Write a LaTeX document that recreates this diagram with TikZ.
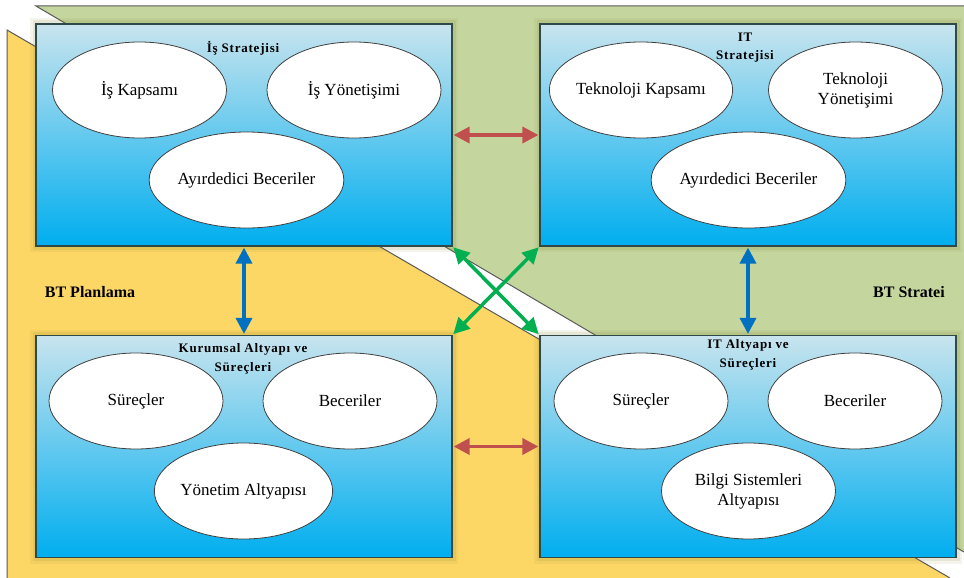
\documentclass[tikz,border=0pt]{standalone}
\usepackage{fontspec}
\setmainfont{Liberation Serif}
\newfontfamily\spacedserif[LetterSpace=6]{Liberation Serif}
\usetikzlibrary{shapes.geometric,arrows.meta,calc}
\definecolor{planeyellow}{HTML}{FDD766}
\definecolor{planegreen}{HTML}{C4D69E}
\definecolor{edgegrey}{HTML}{5A5A5A}
\definecolor{boxtop}{HTML}{C8E4EE}
\definecolor{boxbottom}{HTML}{00AEEF}
\definecolor{boxedge}{HTML}{2F4848}
\definecolor{glowcol}{HTML}{7A7A20}
\definecolor{linkred}{HTML}{C0504D}
\definecolor{linkblue}{HTML}{0070C0}
\definecolor{linkgreen}{HTML}{00B050}

\begin{document}
\begin{tikzpicture}[x=1pt,y=-1pt,
  panel/.style={rectangle, minimum width=416pt, minimum height=222pt, inner sep=0pt,
    top color=boxtop, bottom color=boxbottom, draw=boxedge, line width=1.2pt,
    preaction={draw=glowcol, line width=12pt, draw opacity=0.08},
    preaction={draw=glowcol, line width=7pt, draw opacity=0.11}},
  blob/.style={ellipse, draw=black!75, fill=white, line width=0.8pt,
    minimum width=174pt, minimum height=96pt, inner sep=0pt, align=center,
    font=\fontsize{17}{20}\selectfont},
  paneltitle/.style={align=center, inner sep=0pt, font=\spacedserif\bfseries\fontsize{13}{18.5}\selectfont},
  planelabel/.style={inner sep=0pt, font=\bfseries\fontsize{16}{19}\selectfont},
  link/.style={{Triangle[length=16pt,width=16pt]}-{Triangle[length=16pt,width=16pt]},
    line width=3.5pt, shorten >=1pt, shorten <=1pt},
  planeedge/.style={draw=edgegrey, line width=1pt}
]
% page
\fill[white] (0,0) rectangle (964,578);
\useasboundingbox (0,0) rectangle (964,578);

% strategy plane (green) and planning plane (yellow)
\fill[planegreen] (36,6) -- (964,6) -- (964,552) -- cycle;
\draw[planeedge] (964,6) -- (36,6) -- (964,552);
\fill[planeyellow] (7,30) -- (950,578) -- (7,578) -- cycle;
\draw[planeedge] (7,578) -- (7,30) -- (950,578);

% plane captions
\node[planelabel] (plan) at (90,292) {BT Planlama};
\node[planelabel] (strat) at (909,292) {BT Stratei};

% four panels
\node[panel] (tl) at (244,135) {};
\node[panel] (tr) at (748,135) {};
\node[panel] (bl) at (244,446.5) {};
\node[panel] (br) at (748,446.5) {};

% business strategy
\node[blob] (tl1) at (139.5,90) {İş Kapsamı};
\node[blob] (tl2) at (354,90) {İş Yönetişimi};
\node[blob] (tl3) at (246.5,180) {Ayırdedici Beceriler};
\node[paneltitle] (tlt) at (243,48) {İş Stratejisi};

% IT strategy
\node[blob] (tr1) at (641,90) {Teknoloji Kapsamı};
\node[blob] (tr2) at (855.5,90) {Teknoloji\\Yönetişimi};
\node[blob] (tr3) at (748.5,180) {Ayırdedici Beceriler};
\node[paneltitle] (trt) at (745,47.5) {IT\\Stratejisi};

% organisational infrastructure
\node[blob] (bl1) at (136,401) {Süreçler};
\node[blob] (bl2) at (350,401) {Beceriler};
\node[blob] (bl3) at (243.5,491) {Yönetim Altyapısı};
\node[paneltitle] (blt) at (243,359) {Kurumsal Altyapı ve\\Süreçleri};

% IT infrastructure
\node[blob] (br1) at (641,401) {Süreçler};
\node[blob] (br2) at (855,401) {Beceriler};
\node[blob] (br3) at (748.5,491) {Bilgi Sistemleri\\Altyapısı};
\node[paneltitle] (brt) at (748,355) {IT Altyapı ve\\Süreçleri};

% alignment links
\draw[link, linkred] (tl.east) -- (tr.west);
\draw[link, linkred] (bl.east) -- (br.west);
\draw[link, linkblue] (tl.south) -- (bl.north);
\draw[link, linkblue] (tr.south) -- (br.north);
\draw[link, linkgreen] (tl.south east) -- (br.north west);
\draw[link, linkgreen] (tr.south west) -- (bl.north east);
\end{tikzpicture}
\end{document}
